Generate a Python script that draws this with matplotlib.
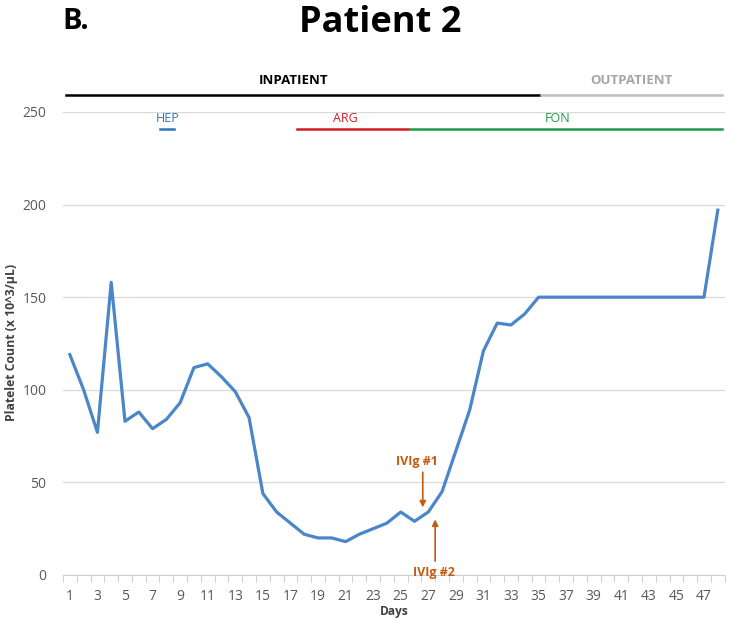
import matplotlib
matplotlib.use("Agg")
import matplotlib.pyplot as plt
import numpy as np

days = list(range(1, 49))
platelets = [119, 100, 77, 158, 83, 88, 79, 84, 93, 112, 114, 107, 99, 85, 44, 34,
             28, 22, 20, 20, 18, 22, 25, 28, 34, 29, 34, 45, 67, 89, 121, 136,
             135, 141, 150, 150, 150, 150, 150, 150, 150, 150, 150, 150, 150, 150, 150, 197]
yticks = [0, 50, 100, 150, 200, 250]
xtick_labels = [str(d) for d in range(1, 48, 2)]

# status / drug periods (day ranges)
status_names = ["INPATIENT", "OUTPATIENT"]
status_ranges = [(0.7, 35.1), (35.2, 48.3)]
drug_names = ["HEP", "ARG", "FON"]
drug_ranges = [(7.55, 8.55), (17.5, 25.5), (25.65, 48.3)]
ivig_labels = ["IVIg #1", "IVIg #2"]
ivig_days = [26.6, 27.5]

plt.rcParams['font.family'] = ['Open Sans', 'DejaVu Sans']

fig = plt.figure(figsize=(7.32, 6.18), dpi=100)
ax = fig.add_axes([0.086, 0.0696, 0.904, 0.7492])

ax.plot(days, platelets, color='#4a86c8', lw=2.3, solid_joinstyle='round', zorder=3)
ax.set_xlim(0.5, 48.5)
ax.set_ylim(0, 250)
ax.set_yticks(yticks)
ax.set_xticks(list(range(1, 48, 2)))
ax.set_xticklabels(xtick_labels)
ax.set_xticks(np.arange(0.5, 49, 1), minor=True)
ax.tick_params(axis='x', which='major', length=0, pad=10, labelsize=10, colors='#595959')
ax.tick_params(axis='x', which='minor', length=5, color='#d0d0d0', width=0.8)
ax.tick_params(axis='y', length=0, pad=12, labelsize=10, colors='#595959')
ax.grid(axis='y', color='#d9d9d9', lw=0.9)
ax.set_axisbelow(True)
for s in ['top', 'right', 'left']:
    ax.spines[s].set_visible(False)
ax.spines['bottom'].set_color('#d0d0d0')

fig.text(12 / 732, 1 - 342 / 618, 'Platelet Count (x 10^3/µL)', rotation=90,
         ha='center', va='center', fontsize=8.8, fontweight='bold', color='#404040')
fig.text(394 / 732, 1 - 611 / 618, 'Days', ha='center', va='center',
         fontsize=8.6, fontweight='bold', color='#404040')

# status bars
status_colors = ['black', '#bfbfbf']
for name, (a, b), c in zip(status_names, status_ranges, status_colors):
    ax.plot([a, b], [259, 259], color=c, lw=1.8, clip_on=False)
    tx = (a + b) / 2 if name == "OUTPATIENT" else 17.2
    ax.text(tx, 267, name, ha='center', va='center', fontsize=9.5, fontweight='bold',
            color='black' if c == 'black' else '#a6a6a6', clip_on=False)

drug_colors = ['#2e75b6', '#d01c24', '#1e9a48']
drug_text_x = [8.1, 21.0, 36.4]
for name, (a, b), c, tx in zip(drug_names, drug_ranges, drug_colors, drug_text_x):
    ax.plot([a, b], [241, 241], color=c, lw=1.8, clip_on=False)
    ax.text(tx, 246.5, name, ha='center', va='center', fontsize=9, color=c)

# IVIg annotations
ivc = '#c55a11'
ax.annotate('', xy=(ivig_days[0], 35), xytext=(ivig_days[0], 57),
            arrowprops=dict(arrowstyle='-|>', color=ivc, lw=1.2, mutation_scale=9))
ax.text(ivig_days[0] - 0.45, 61.5, ivig_labels[0], ha='center', va='center',
        fontsize=9, fontweight='bold', color=ivc)
ax.annotate('', xy=(ivig_days[1], 31.5), xytext=(ivig_days[1], 6),
            arrowprops=dict(arrowstyle='-|>', color=ivc, lw=1.2, mutation_scale=9))
ax.text(ivig_days[1] - 0.1, 1.5, ivig_labels[1], ha='center', va='center',
        fontsize=9, fontweight='bold', color=ivc)

fig.text(0.52, 0.962, 'Patient 2', ha='center', va='center', fontsize=26, fontweight='bold')
fig.text(0.103, 0.965, 'B.', ha='center', va='center', fontsize=21, fontweight='bold')

fig.savefig('out.png', dpi=100)
